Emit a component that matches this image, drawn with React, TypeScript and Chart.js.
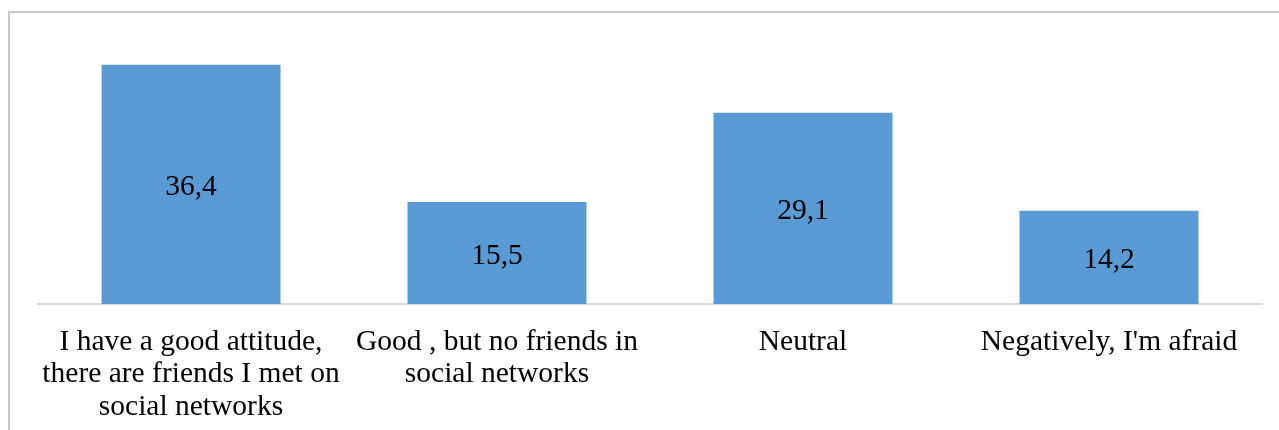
import React, { useEffect, useRef } from "react";
import { Chart, registerables } from "chart.js";

Chart.register(...registerables);

const categories: (string | string[])[] = [
  ["I have a good attitude,", "there are friends I met on", "social networks"],
  ["Good , but no friends in", "social networks"],
  "Neutral",
  "Negatively, I'm afraid",
];
const values: number[] = [36.4, 15.5, 29.1, 14.2];

const FONT = '"Liberation Serif", "Times New Roman", serif';

const valueLabels = {
  id: "valueLabels",
  afterDatasetsDraw(chart: any) {
    const ctx = chart.ctx;
    const meta = chart.getDatasetMeta(0);
    ctx.save();
    ctx.font = `29.5px ${FONT}`;
    ctx.fillStyle = "#000000";
    ctx.textAlign = "center";
    ctx.textBaseline = "middle";
    meta.data.forEach((bar: any, i: number) => {
      const v = values[i];
      const txt = v.toFixed(1).replace(".", ",");
      const y = (bar.y + bar.base) / 2 + 3;
      ctx.fillText(txt, bar.x, y);
    });
    ctx.restore();
  },
};

export default function App() {
  const ref = useRef<HTMLCanvasElement | null>(null);
  useEffect(() => {
    if (!ref.current) return;
    const chart = new Chart(ref.current, {
      type: "bar",
      data: {
        labels: categories,
        datasets: [
          {
            data: values,
            backgroundColor: "#5B9BD5",
            borderWidth: 0,
            categoryPercentage: 1,
            barPercentage: 0.585,
          },
        ],
      },
      options: {
        animation: false,
        responsive: false,
        maintainAspectRatio: false,
        layout: { padding: { left: 38, right: 17, top: 41, bottom: 0 } },
        plugins: {
          legend: { display: false },
          tooltip: { enabled: false },
        },
        scales: {
          x: {
            grid: { display: false, drawTicks: false },
            border: { display: true, color: "#d9d9d9", width: 2 },
            ticks: {
              color: "#000000",
              font: { family: FONT, size: 29.5, lineHeight: 1.1 },
              padding: 22,
              maxRotation: 0,
              autoSkip: false,
            },
            afterFit(scale: any) {
              scale.height = 126;
            },
          },
          y: {
            display: false,
            min: 0,
            max: 40,
          },
        },
      },
      plugins: [valueLabels],
    });
    return () => chart.destroy();
  }, []);

  return (
    <div
      style={{
        position: "fixed",
        left: 0,
        top: 0,
        width: 1279,
        height: 430,
        overflow: "hidden",
        background: "#ffffff",
      }}
    >
      <div
        style={{
          position: "absolute",
          left: 8,
          top: 11,
          width: 1300,
          height: 450,
          border: "2px solid #c8c8c8",
          boxSizing: "border-box",
        }}
      />
      <canvas
        ref={ref}
        width={1279}
        height={430}
        style={{ position: "absolute", left: 0, top: 0, width: 1279, height: 430 }}
      />
    </div>
  );
}
